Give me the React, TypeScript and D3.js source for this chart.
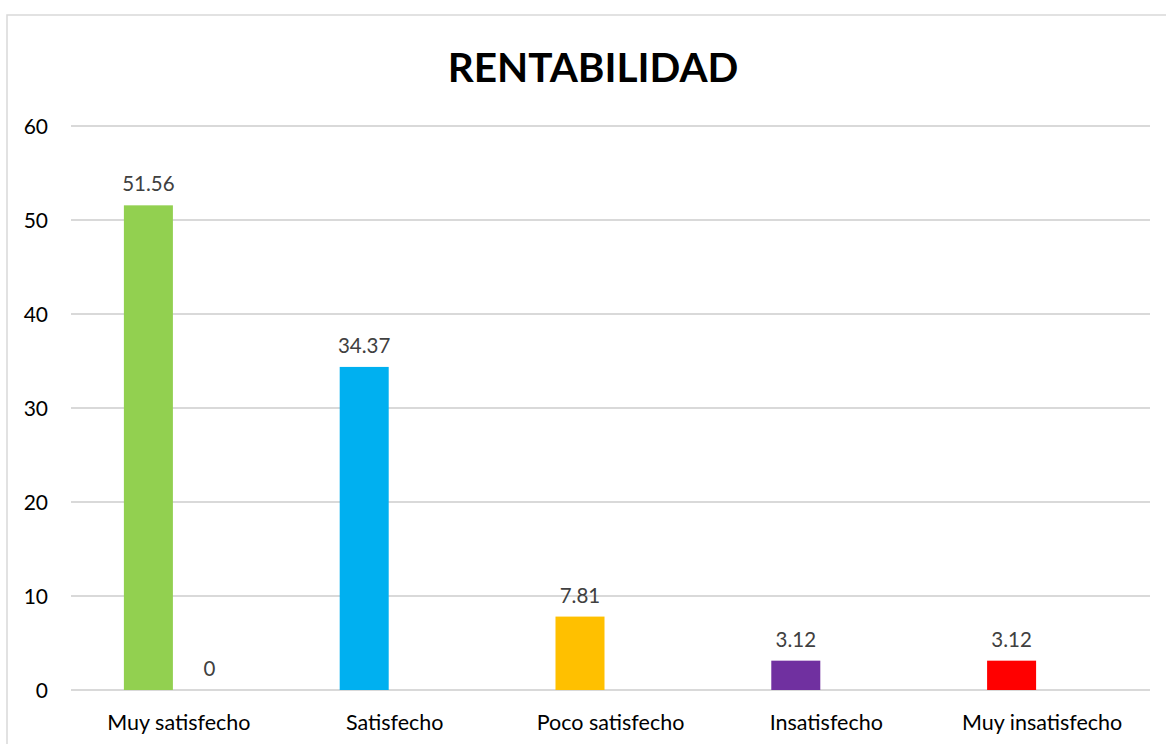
import React from "react";
import * as d3 from "d3";

const title = "RENTABILIDAD";
const categories = ["Muy satisfecho", "Satisfecho", "Poco satisfecho", "Insatisfecho", "Muy insatisfecho"];
const seriesNames = ["Serie1", "Serie2"];
const series1Values: (number | null)[] = [51.56, 34.37, 7.81, 3.12, 3.12];
const series2Values: (number | null)[] = [0, null, null, null, null];
const barColors = ["#92D050", "#00B0F0", "#FFC000", "#7030A0", "#FF0000"];
const yTicks = [0, 10, 20, 30, 40, 50, 60];

const W = 1166;
const H = 744;
const FONT = "Lato, 'Open Sans', sans-serif";

export default function App() {
  const plotLeft = 71;
  const plotRight = 1150;
  const plotTop = 126;
  const plotBottom = 690;

  const y = d3.scaleLinear().domain([0, 60]).range([plotBottom, plotTop]);
  const x0 = d3.scaleBand<string>().domain(categories).range([plotLeft, plotRight]).paddingInner(0).paddingOuter(0);
  const x1 = d3
    .scaleBand<string>()
    .domain(seriesNames)
    .range([0, x0.bandwidth()])
    .paddingInner(12 / 61)
    .paddingOuter(0.867);

  const allSeries = [series1Values, series2Values];

  return (
    <svg width={W} height={H} style={{ position: "absolute", left: 0, top: 0, background: "#fff" }}>
      <rect x={7} y={15} width={1200} height={800} fill="#fff" stroke="#d9d9d9" strokeWidth={1.5} />
      <text x={593} y={82} textAnchor="middle" fontFamily={FONT} fontWeight={700} fontSize={40.5} fill="#000">
        {title}
      </text>
      {yTicks.map((t) => (
        <g key={t}>
          <line x1={plotLeft} x2={plotRight} y1={y(t)} y2={y(t)} stroke="#d9d9d9" strokeWidth={2} />
          <text x={48} y={y(t)} dy="0.36em" textAnchor="end" fontFamily={FONT} fontSize={21} fill="#000">
            {t}
          </text>
        </g>
      ))}
      {allSeries.map((vals, si) =>
        vals.map((v, ci) => {
          if (v === null) return null;
          const cx = (x0(categories[ci]) ?? 0) + (x1(seriesNames[si]) ?? 0);
          const bw = x1.bandwidth();
          return (
            <g key={`${si}-${ci}`}>
              {v > 0 && (
                <rect x={cx} y={y(v)} width={bw} height={y(0) - y(v)} fill={barColors[ci]} />
              )}
              <text
                x={cx + bw / 2}
                y={y(v) - 14}
                textAnchor="middle"
                fontFamily={FONT}
                fontSize={20.5}
                fill="#404040"
              >
                {v}
              </text>
            </g>
          );
        })
      )}
      {categories.map((c) => (
        <text
          key={c}
          x={(x0(c) ?? 0) + x0.bandwidth() / 2}
          y={730}
          textAnchor="middle"
          fontFamily={FONT}
          fontSize={21.5}
          fill="#000"
        >
          {c}
        </text>
      ))}
    </svg>
  );
}
